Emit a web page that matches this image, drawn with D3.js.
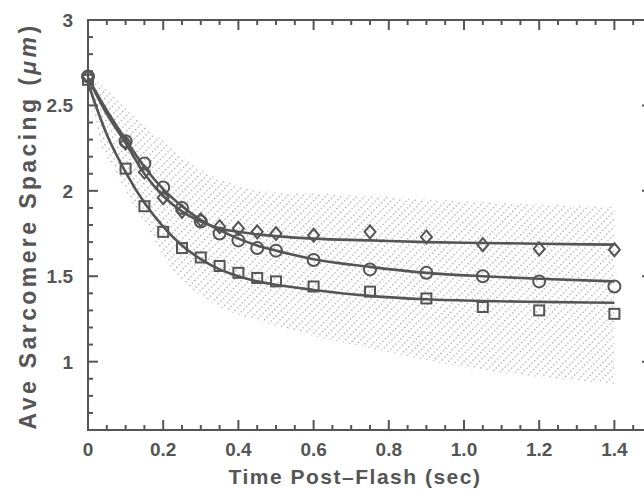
<!DOCTYPE html>
<html>
<head>
<meta charset="utf-8">
<script src="https://cdn.jsdelivr.net/npm/d3@7"></script>
<style>
  body { margin: 0; background: #fff; }
  text { font-family: "Liberation Sans", Arial, sans-serif; fill: #555; font-weight: bold; }
</style>
</head>
<body>
<svg width="644" height="492"></svg>
<script>
// measured points
var times = [0, 0.1, 0.15, 0.2, 0.25, 0.3, 0.35, 0.4, 0.45, 0.5, 0.6, 0.75, 0.9, 1.05, 1.2, 1.4];
var diamonds = [2.67, 2.28, 2.11, 1.96, 1.88, 1.83, 1.79, 1.78, 1.76, 1.75, 1.74, 1.76, 1.73, 1.685, 1.66, 1.655];
var circles  = [2.67, 2.29, 2.16, 2.02, 1.90, 1.82, 1.75, 1.71, 1.665, 1.65, 1.595, 1.54, 1.52, 1.50, 1.47, 1.44];
var squares  = [2.65, 2.13, 1.91, 1.76, 1.665, 1.61, 1.56, 1.52, 1.49, 1.47, 1.44, 1.41, 1.37, 1.32, 1.30, 1.28];

// fitted curves
var fitTimes = [0, 0.05, 0.1, 0.15, 0.2, 0.25, 0.3, 0.35, 0.4, 0.45, 0.5, 0.6, 0.75, 0.9, 1.05, 1.2, 1.4];
var diamondFit = [2.66, 2.45, 2.28, 2.10, 1.97, 1.88, 1.82, 1.78, 1.76, 1.745, 1.735, 1.72, 1.71, 1.70, 1.695, 1.69, 1.685];
var circleFit  = [2.66, 2.47, 2.30, 2.14, 2.01, 1.91, 1.83, 1.77, 1.72, 1.68, 1.65, 1.60, 1.555, 1.52, 1.50, 1.485, 1.47];
var squareFit  = [2.63, 2.33, 2.11, 1.93, 1.79, 1.68, 1.60, 1.54, 1.50, 1.47, 1.45, 1.42, 1.385, 1.365, 1.355, 1.35, 1.345];

// shaded band
var bandTimes = [0, 0.03, 0.07, 0.12, 0.16, 0.2, 0.25, 0.3, 0.35, 0.42, 0.5, 0.6, 0.75, 0.9, 1.05, 1.2, 1.4];
var bandUpper = [2.70, 2.63, 2.55, 2.44, 2.36, 2.29, 2.20, 2.12, 2.07, 2.02, 1.99, 1.985, 1.97, 1.95, 1.935, 1.92, 1.905];
var bandLower = [2.60, 2.30, 2.13, 1.92, 1.78, 1.62, 1.47, 1.39, 1.32, 1.26, 1.21, 1.15, 1.08, 1.01, 0.95, 0.91, 0.87];

var xTicks = [0, 0.2, 0.4, 0.6, 0.8, 1.0, 1.2, 1.4];
var xTickLabels = ["0", "0.2", "0.4", "0.6", "0.8", "1.0", "1.2", "1.4"];
var yTicks = [1, 1.5, 2, 2.5, 3];
var yTickLabels = ["1", "1.5", "2", "2.5", "3"];

var ink = "#555";

var svg = d3.select("svg"),
    plotL = 88, plotR = 652, plotT = 20, plotB = 430;

var x = d3.scaleLinear().domain([0, 1.5]).range([plotL, plotR]);
var y = d3.scaleLinear().domain([0.6, 3]).range([plotB, plotT]);

var defs = svg.append("defs");
var pat = defs.append("pattern")
    .attr("id", "stipple")
    .attr("patternUnits", "userSpaceOnUse")
    .attr("width", 3.6).attr("height", 5.5)
    .attr("patternTransform", "rotate(-45)");
pat.append("rect").attr("x", 0).attr("y", 0).attr("width", 1.3).attr("height", 1.3).attr("fill", "#a0a0a0");

var band = bandTimes.map(function(t, i) { return [t, bandLower[i], bandUpper[i]]; });
svg.append("path")
    .datum(band)
    .attr("fill", "url(#stipple)")
    .attr("d", d3.area()
      .x(function(d) { return x(d[0]); })
      .y0(function(d) { return y(d[1]); })
      .y1(function(d) { return y(d[2]); })
      .curve(d3.curveMonotoneX));

// frame
svg.append("rect")
    .attr("x", plotL).attr("y", plotT)
    .attr("width", plotR - plotL).attr("height", plotB - plotT)
    .attr("fill", "none").attr("stroke", ink).attr("stroke-width", 2);

// ticks (all inward)
var xMinor = d3.range(0, 1.5001, 0.05);
xMinor.forEach(function(t) {
  var major = Math.abs(t * 5 - Math.round(t * 5)) < 1e-6;
  var len = major ? 10 : 5;
  svg.append("line").attr("x1", x(t)).attr("x2", x(t)).attr("y1", plotB).attr("y2", plotB - len)
      .attr("stroke", ink).attr("stroke-width", 2);
  svg.append("line").attr("x1", x(t)).attr("x2", x(t)).attr("y1", plotT).attr("y2", plotT + len)
      .attr("stroke", ink).attr("stroke-width", 2);
});
var yMinor = d3.range(0.6, 3.0001, 0.1);
yMinor.forEach(function(v) {
  var major = Math.abs(v * 2 - Math.round(v * 2)) < 1e-6;
  var len = major ? 10 : 5;
  svg.append("line").attr("x1", plotL).attr("x2", plotL + len).attr("y1", y(v)).attr("y2", y(v))
      .attr("stroke", ink).attr("stroke-width", 2);
  svg.append("line").attr("x1", plotR).attr("x2", plotR - len).attr("y1", y(v)).attr("y2", y(v))
      .attr("stroke", ink).attr("stroke-width", 2);
});

// tick labels
svg.selectAll(".xl").data(xTicks).enter().append("text")
    .attr("x", function(d) { return x(d); })
    .attr("y", 456)
    .attr("text-anchor", "middle")
    .attr("font-size", 19)
    .text(function(d, i) { return xTickLabels[i]; });

svg.selectAll(".yl").data(yTicks).enter().append("text")
    .attr("x", 73)
    .attr("y", function(d) { return y(d) + 7; })
    .attr("text-anchor", "end")
    .attr("font-size", 19)
    .text(function(d, i) { return yTickLabels[i]; });

// axis titles
svg.append("text")
    .attr("x", 355).attr("y", 484)
    .attr("text-anchor", "middle")
    .attr("font-size", 21)
    .attr("letter-spacing", 1.5)
    .text("Time Post\u2013Flash (sec)");

var yt = svg.append("text")
    .attr("transform", "translate(36,226) rotate(-90)")
    .attr("text-anchor", "middle")
    .attr("font-size", 23)
    .attr("letter-spacing", 3.4);
yt.append("tspan").text("Ave Sarcomere Spacing (");
yt.append("tspan").attr("font-style", "italic").text("\u03bcm");
yt.append("tspan").text(")");

// fit lines
var line = d3.line()
    .x(function(d) { return x(d[0]); })
    .y(function(d) { return y(d[1]); })
    .curve(d3.curveMonotoneX);

[diamondFit, circleFit, squareFit].forEach(function(fit) {
  svg.append("path")
      .datum(fitTimes.map(function(t, i) { return [t, fit[i]]; }))
      .attr("fill", "none")
      .attr("stroke", ink)
      .attr("stroke-width", 2.6)
      .attr("d", line);
});

// markers
svg.selectAll(".dia").data(times).enter().append("path")
    .attr("transform", function(d, i) { return "translate(" + x(d) + "," + y(diamonds[i]) + ")"; })
    .attr("d", "M0,-6.5L5.5,0L0,6.5L-5.5,0Z")
    .attr("fill", "none").attr("stroke", ink).attr("stroke-width", 2);

svg.selectAll(".cir").data(times).enter().append("circle")
    .attr("cx", function(d) { return x(d); })
    .attr("cy", function(d, i) { return y(circles[i]); })
    .attr("r", 6)
    .attr("fill", "none").attr("stroke", ink).attr("stroke-width", 2);

svg.selectAll(".sq").data(times).enter().append("rect")
    .attr("x", function(d) { return x(d) - 5; })
    .attr("y", function(d, i) { return y(squares[i]) - 5; })
    .attr("width", 10).attr("height", 10)
    .attr("fill", "none").attr("stroke", ink).attr("stroke-width", 2);
</script>
</body>
</html>
